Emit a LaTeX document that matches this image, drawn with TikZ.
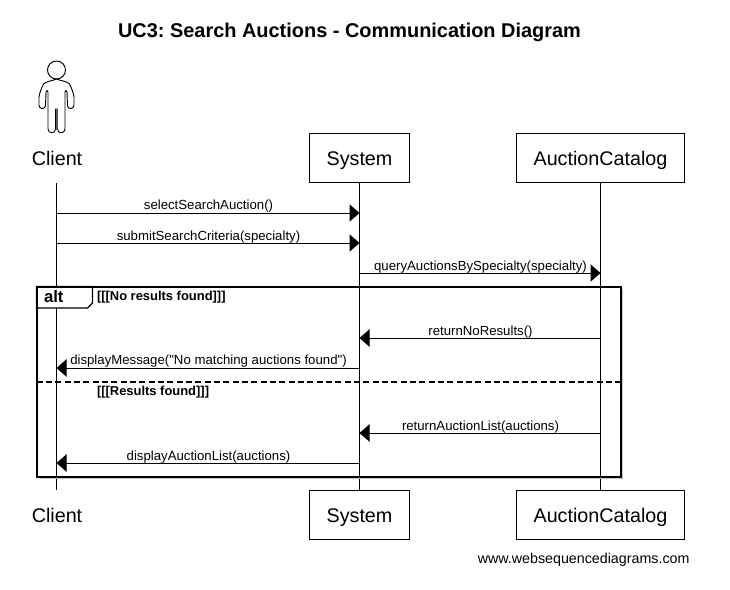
\documentclass[tikz,border=0pt]{standalone}
\usepackage{fontspec}
\setmainfont{Liberation Sans}
\newfontfamily\plainsans{Liberation Sans}
\usetikzlibrary{arrows.meta}
\tikzset{
  x=0.75pt,y=-0.75pt,
  every node/.style={inner sep=0pt,outer sep=0pt},
  partbox/.style={draw=black,line width=0.75pt,fill=white,anchor=center,font=\fontsize{14.8}{18}\selectfont,text height=11.25pt,text depth=0pt},
  partlabel/.style={font=\fontsize{14.8}{18}\selectfont},
  lifeline/.style={draw=black,line width=0.75pt},
  msg/.style={draw=black,line width=0.75pt,-{Triangle[length=7.5pt,width=13pt]},shorten >=0pt},
  msgtext/.style={font=\plainsans\fontsize{9.9}{11}\selectfont,anchor=base},
  guard/.style={font=\bfseries\fontsize{9.7}{10}\selectfont,anchor=base west},
  framebox/.style={draw=black,line width=1.5pt},
}
\begin{document}
\frenchspacing
\begin{tikzpicture}
\useasboundingbox (0,0) rectangle (730,589);
\node[font=\bfseries\fontsize{14.95}{16}\selectfont,anchor=base] (title) at (349.5,37) {UC3: Search Auctions - Communication Diagram};

% actor
\draw[line width=0.7pt] (56.5,70) circle (9);
\draw[line width=0.7pt,line join=round]
  (56.5,79) .. controls (52,81) and (47,81) .. (43.5,84)
  .. controls (41.5,88) and (39.5,93) .. (39,97) -- (39,105)
  .. controls (39,109) and (44.5,110) .. (45.5,106) -- (46,92)
  .. controls (46.5,90) and (48,90) .. (48,92) -- (48,129)
  .. controls (48,134) and (55.5,134) .. (55.5,129) -- (55.5,109) -- (57.5,109) -- (57.5,129)
  .. controls (57.5,134) and (65,134) .. (65,129) -- (65,92)
  .. controls (65,90) and (66.5,90) .. (67,92) -- (67.5,106)
  .. controls (68.5,110) and (74,109) .. (74,105) -- (74,97)
  .. controls (73.5,93) and (71.5,88) .. (69.5,84)
  .. controls (66.5,81) and (61,81) .. (56.5,79) -- cycle;
\fill[black!65] (55.5,109) rectangle (57.5,130);

% lifelines anchors
\node[partlabel,anchor=base] (clientT) at (57,165) {Client};
\node[partlabel,anchor=base] (clientB) at (57,522) {Client};
\coordinate (clientA) at (56.5,183);
\coordinate (clientE) at (56.5,490);
\node[partbox,minimum width=75pt,minimum height=36.75pt] (sysT) at (359.5,157.5) {System};
\node[partbox,minimum width=75pt,minimum height=36.75pt] (sysB) at (359.5,514.5) {System};
\node[partbox,minimum width=126pt,minimum height=36.75pt] (catT) at (600.5,157.5) {AuctionCatalog};
\node[partbox,minimum width=126pt,minimum height=36.75pt] (catB) at (600.5,514.5) {AuctionCatalog};
\draw[lifeline] (clientA) -- (clientE);
\draw[lifeline] (sysT) -- (sysB);
\draw[lifeline] (catT) -- (catB);

% message endpoints
\foreach \n/\y in {a/213,b/243,c/273,d/338,e/368,f/433,g/463}{
  \coordinate (cl\n) at (56.5,\y);
  \coordinate (sy\n) at (359.5,\y);
  \coordinate (ca\n) at (600.5,\y);
}
\draw[msg] (cla) -- (sya);
\draw[msg] (clb) -- (syb);
\draw[msg] (syc) -- (cac);
\draw[msg] (cad) -- (syd);
\draw[msg] (sye) -- (cle);
\draw[msg] (caf) -- (syf);
\draw[msg] (syg) -- (clg);
\node[msgtext] (m1) at (208.5,209) {selectSearchAuction()};
\node[msgtext] (m2) at (208.5,240) {submitSearchCriteria(specialty)};
\node[msgtext] (m3) at (480.5,270) {queryAuctionsBySpecialty(specialty)};
\node[msgtext] (m4) at (480.5,335) {returnNoResults()};
\node[msgtext] (m5) at (208.5,364) {displayMessage("No matching auctions found")};
\node[msgtext] (m6) at (480.5,430) {returnAuctionList(auctions)};
\node[msgtext] (m7) at (208.5,460) {displayAuctionList(auctions)};

% frame
\coordinate (fa) at (36.5,286.5);
\coordinate (fb) at (620.5,476.5);
\draw[gray!45,line width=0.75pt] (622,288.5) -- (622,478) -- (38.5,478);
\draw[framebox,line width=0.9pt,fill=white] (36.5,286.5) -- (92.5,286.5) -- (92.5,303) -- (87.5,308) -- (36.5,308) -- cycle;
\draw[framebox] (fa) -- (fa -| fb) -- (fb) -- (fb -| fa) -- cycle;
\node[font=\bfseries\fontsize{12.5}{14}\selectfont,anchor=base west] (alt) at (44,302) {alt};
\node[guard] (g1) at (97,300) {[[[No results found]]]};
\node[guard] (g2) at (97,395) {[[[Results found]]]};
\coordinate (da) at (36.5,382);
\coordinate (db) at (620.5,382);
\draw[black,line width=1.5pt,dash pattern=on 4.5pt off 2.5pt] (da) -- (db);
\node[font=\fontsize{10.7}{12}\selectfont,anchor=base east] (wm) at (689.5,563) {www.websequencediagrams.com};
\end{tikzpicture}
\end{document}
